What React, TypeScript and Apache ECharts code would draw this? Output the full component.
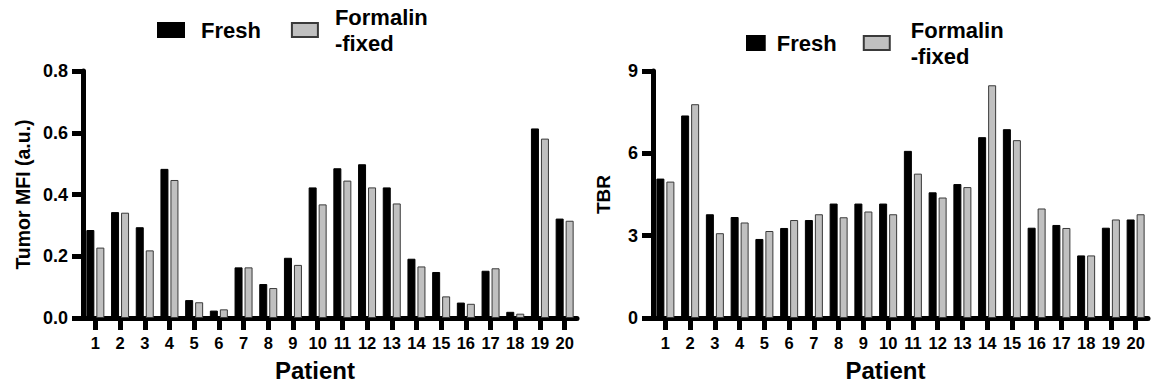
import React, { useEffect, useRef } from "react";
import * as echarts from "echarts";

const patients = ["1","2","3","4","5","6","7","8","9","10","11","12","13","14","15","16","17","18","19","20"];
const mfiFresh = [0.285,0.343,0.294,0.483,0.058,0.024,0.164,0.110,0.195,0.423,0.485,0.498,0.423,0.192,0.149,0.050,0.153,0.020,0.614,0.322];
const mfiFixed = [0.228,0.341,0.219,0.447,0.051,0.028,0.164,0.097,0.172,0.368,0.445,0.423,0.371,0.167,0.070,0.046,0.161,0.014,0.581,0.315];
const tbrFresh = [5.08,7.38,3.78,3.68,2.88,3.28,3.57,4.17,4.17,4.17,6.09,4.58,4.88,6.59,6.88,3.29,3.39,2.28,3.29,3.59];
const tbrFixed = [4.97,7.79,3.09,3.48,3.17,3.57,3.78,3.67,3.88,3.78,5.26,4.39,4.77,8.48,6.48,3.99,3.28,2.28,3.59,3.78];
const seriesNames = ["Fresh", "Formalin-fixed"];

const FONT = '"Liberation Sans", Arial, Helvetica, sans-serif';

export default function App() {
  const ref = useRef<HTMLDivElement>(null);
  useEffect(() => {
    document.body.style.margin = "0";
    const chart = echarts.init(ref.current!, null, { renderer: "svg" });
    const xAxisBase = (gridIndex: number) => ({
      type: "category",
      gridIndex,
      data: patients,
      name: "Patient",
      nameLocation: "middle",
      nameGap: 40,
      nameTextStyle: { fontFamily: FONT, fontWeight: "bold", fontSize: 24, color: "#000", padding: [0, 30, 0, 0] },
      axisLine: { show: true, lineStyle: { color: "#000", width: 5 } },
      axisTick: { show: true, inside: false, alignWithLabel: true, length: 12, lineStyle: { color: "#000", width: 5 } },
      axisLabel: { margin: 16, fontFamily: FONT, fontWeight: "bold", fontSize: 16.5, color: "#000", interval: 0 },
    });
    const yAxisBase = (gridIndex: number) => ({
      type: "value",
      gridIndex,
      min: 0,
      nameLocation: "middle",
      nameRotate: 90,
      splitLine: { show: false },
      axisLine: { show: true, lineStyle: { color: "#000", width: 5 } },
      axisTick: { show: true, inside: false, length: 11, lineStyle: { color: "#000", width: 5 } },
      axisLabel: { margin: 15, fontFamily: FONT, fontWeight: "bold", fontSize: 18, color: "#000" },
    });
    const freshStyle = { color: "#000", borderColor: "#000", borderWidth: 1 };
    const fixedStyle = { color: "#c0c0c0", borderColor: "#3a3a3a", borderWidth: 1 };
    const legendFormatter = (n: string) => (n === "Formalin-fixed" ? "Formalin\n-fixed" : n);
    const legendText = { fontFamily: FONT, fontWeight: "bold", fontSize: 22, color: "#000", lineHeight: 26 };
    chart.setOption({
      animation: false,
      backgroundColor: "#fff",
      grid: [
        { left: 83, right: 575, top: 71, bottom: 71 },
        { left: 653, right: 4, top: 71, bottom: 71 },
      ],
      legend: [
        {
          left: 157, top: 4, padding: 0, icon: "rect", itemWidth: 26, itemHeight: 14, itemGap: 30,
          formatter: legendFormatter,
          textStyle: { ...legendText, padding: [0, 0, 0, 12] },
          data: seriesNames.map((n) => ({ name: n })),
        },
        {
          left: 746, top: 17, padding: 0, icon: "rect", itemWidth: 26, itemHeight: 14, itemGap: 26,
          formatter: legendFormatter,
          textStyle: { ...legendText },
          data: [
            { name: seriesNames[0], icon: "path://M0,0 h19 v15 h-19 z", textStyle: { ...legendText, padding: [0, 0, 0, 3] } },
            { name: seriesNames[1], textStyle: { ...legendText, padding: [0, 0, 0, 16] } },
          ],
        },
      ],
      xAxis: [xAxisBase(0), xAxisBase(1)],
      yAxis: [
        {
          ...yAxisBase(0), max: 0.8, interval: 0.2,
          name: "Tumor MFI (a.u.)", nameGap: 50,
          nameTextStyle: { fontFamily: FONT, fontWeight: "bold", fontSize: 19.5, color: "#000" },
          axisLabel: { ...yAxisBase(0).axisLabel, formatter: (v: number) => v.toFixed(1) },
        },
        {
          ...yAxisBase(1), max: 9, interval: 3,
          name: "TBR", nameGap: 40,
          nameTextStyle: { fontFamily: FONT, fontWeight: "bold", fontSize: 19, color: "#000" },
        },
      ],
      series: [
        { name: seriesNames[0], type: "bar", xAxisIndex: 0, yAxisIndex: 0, data: mfiFresh, barWidth: 8, barGap: "25%", itemStyle: freshStyle },
        { name: seriesNames[1], type: "bar", xAxisIndex: 0, yAxisIndex: 0, data: mfiFixed, barWidth: 8, barGap: "25%", itemStyle: fixedStyle },
        { name: seriesNames[0], type: "bar", xAxisIndex: 1, yAxisIndex: 1, data: tbrFresh, barWidth: 8, barGap: "25%", itemStyle: freshStyle },
        { name: seriesNames[1], type: "bar", xAxisIndex: 1, yAxisIndex: 1, data: tbrFixed, barWidth: 8, barGap: "25%", itemStyle: fixedStyle },
      ],
    });
    return () => chart.dispose();
  }, []);
  return <div ref={ref} style={{ width: 1152, height: 389 }} />;
}
